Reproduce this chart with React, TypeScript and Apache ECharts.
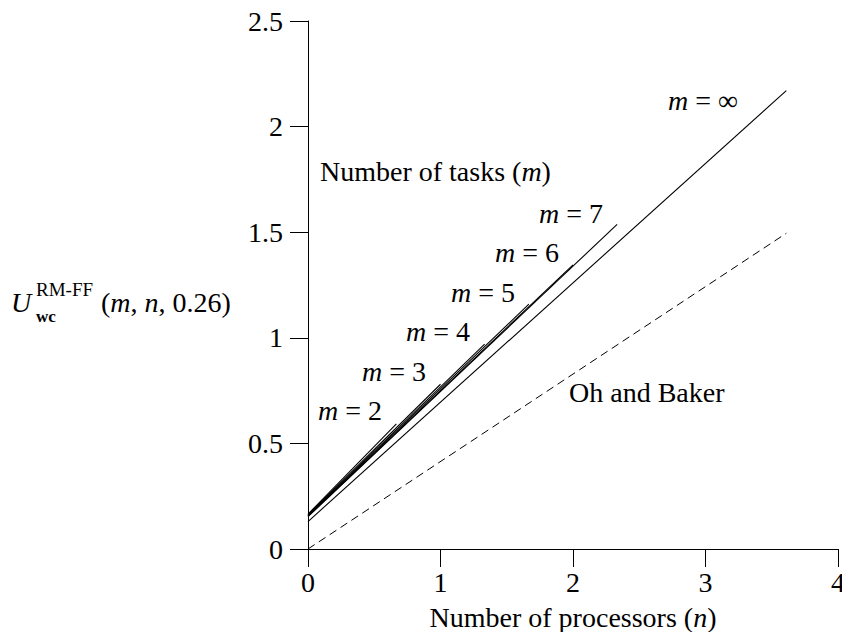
import React, { useEffect, useRef } from "react";
import * as echarts from "echarts";

// Number of tasks m for each finite curve
const taskCounts = ["2", "3", "4", "5", "6", "7"];
// Each finite-m curve: start (n = 0) and end (n = m/3)
const curveStartN = [0, 0, 0, 0, 0, 0];
const curveStartU = [0.165, 0.162, 0.159, 0.157, 0.155, 0.153];
const curveEndN = [0.667, 1.0, 1.333, 1.667, 2.0, 2.333];
const curveEndU = [0.592, 0.78, 0.97, 1.159, 1.345, 1.537];
// m = infinity curve
const infN = [0, 3.61];
const infU = [0.13, 2.17];
// Oh and Baker bound
const ohBakerN = [0, 3.61];
const ohBakerU = [0, 1.495];

const xTicks = [0, 1, 2, 3, 4];
const yTicks = [0, 0.5, 1, 1.5, 2, 2.5];

const FONT = "Liberation Serif";
const FS = 28;

export default function App() {
  const ref = useRef<HTMLDivElement>(null);
  useEffect(() => {
    if (!ref.current) return;
    const chart = echarts.init(ref.current, null, { renderer: "svg" });
    const lineStyle = { color: "#000", width: 1.1 };
    const series: any[] = taskCounts.map((m, i) => ({
      name: "m = " + m,
      type: "line",
      showSymbol: false,
      silent: true,
      lineStyle,
      data: [
        [curveStartN[i], curveStartU[i]],
        [curveEndN[i], curveEndU[i]],
      ],
    }));
    series.push({
      name: "m = ∞",
      type: "line",
      showSymbol: false,
      silent: true,
      lineStyle,
      data: infN.map((n, i) => [n, infU[i]]),
    });
    series.push({
      name: "Oh and Baker",
      type: "line",
      showSymbol: false,
      silent: true,
      lineStyle: { color: "#000", width: 1, type: [8, 5] },
      data: ohBakerN.map((n, i) => [n, ohBakerU[i]]),
    });

    const rich = {
      i: { fontFamily: FONT, fontSize: FS, fontStyle: "italic", fill: "#000" },
      r: { fontFamily: FONT, fontSize: FS, fill: "#000" },
    };
    const txt = (text: string, x: number, y: number, extra: any = {}) => ({
      type: "text",
      x,
      y,
      silent: true,
      style: {
        text,
        fill: "#000",
        fontFamily: FONT,
        fontSize: FS,
        textAlign: "left",
        textVerticalAlign: "middle",
        rich,
        ...extra,
      },
    });

    const labelPos: [number, number][] = [
      [318, 410],
      [362, 371],
      [406, 331],
      [451, 292],
      [495, 252],
      [539, 213],
    ];
    const graphic: any[] = taskCounts.map((m, i) =>
      txt(`{i|m}{r| = ${m}}`, labelPos[i][0], labelPos[i][1])
    );
    graphic.push(txt("{i|m}{r| = ∞}", 668, 100));
    graphic.push(txt("{r|Number of tasks (}{i|m}{r|)}", 320, 171));
    graphic.push(txt("Oh and Baker", 569, 392));
    // y-axis title U_wc^{RM-FF}(m, n, 0.26)
    graphic.push(txt("{i|U}", 11, 302));
    graphic.push(txt("RM-FF", 36, 289, { fontSize: 19, rich: undefined }));
    graphic.push(txt("wc", 36, 316, { fontSize: 17, fontWeight: "bold", rich: undefined }));
    graphic.push(txt("{r|(}{i|m}{r|, }{i|n}{r|, 0.26)}", 101, 302));

    chart.setOption({
      animation: false,
      backgroundColor: "#fff",
      grid: {
        left: 308,
        right: 4,
        top: 21,
        bottom: 83,
        containLabel: false,
        outerBoundsMode: "none",
      },
      xAxis: {
        type: "value",
        min: xTicks[0],
        max: xTicks[xTicks.length - 1],
        interval: 1,
        name: "{r|Number of processors (}{i|n}{r|)}",
        nameLocation: "middle",
        nameGap: 54,
        nameTextStyle: {
          fontFamily: FONT,
          fontSize: FS,
          color: "#000",
          rich: {
            i: { fontFamily: FONT, fontSize: FS, fontStyle: "italic", color: "#000" },
            r: { fontFamily: FONT, fontSize: FS, color: "#000" },
          },
        },
        axisLine: { onZero: false, lineStyle: { color: "#000", width: 1 } },
        axisTick: { show: true, length: 18, lineStyle: { color: "#000", width: 1 } },
        axisLabel: { fontFamily: FONT, fontSize: FS, color: "#000", margin: 19 },
        splitLine: { show: false },
      },
      yAxis: {
        type: "value",
        min: yTicks[0],
        max: yTicks[yTicks.length - 1],
        interval: 0.5,
        axisLine: { show: true, onZero: false, lineStyle: { color: "#000", width: 1 } },
        axisTick: { show: true, length: 18, lineStyle: { color: "#000", width: 1 } },
        axisLabel: { fontFamily: FONT, fontSize: FS, color: "#000", margin: 25 },
        splitLine: { show: false },
      },
      series,
      graphic,
    });
    return () => chart.dispose();
  }, []);
  return <div ref={ref} style={{ width: 842, height: 632, position: "absolute", left: 0, top: 0 }} />;
}
